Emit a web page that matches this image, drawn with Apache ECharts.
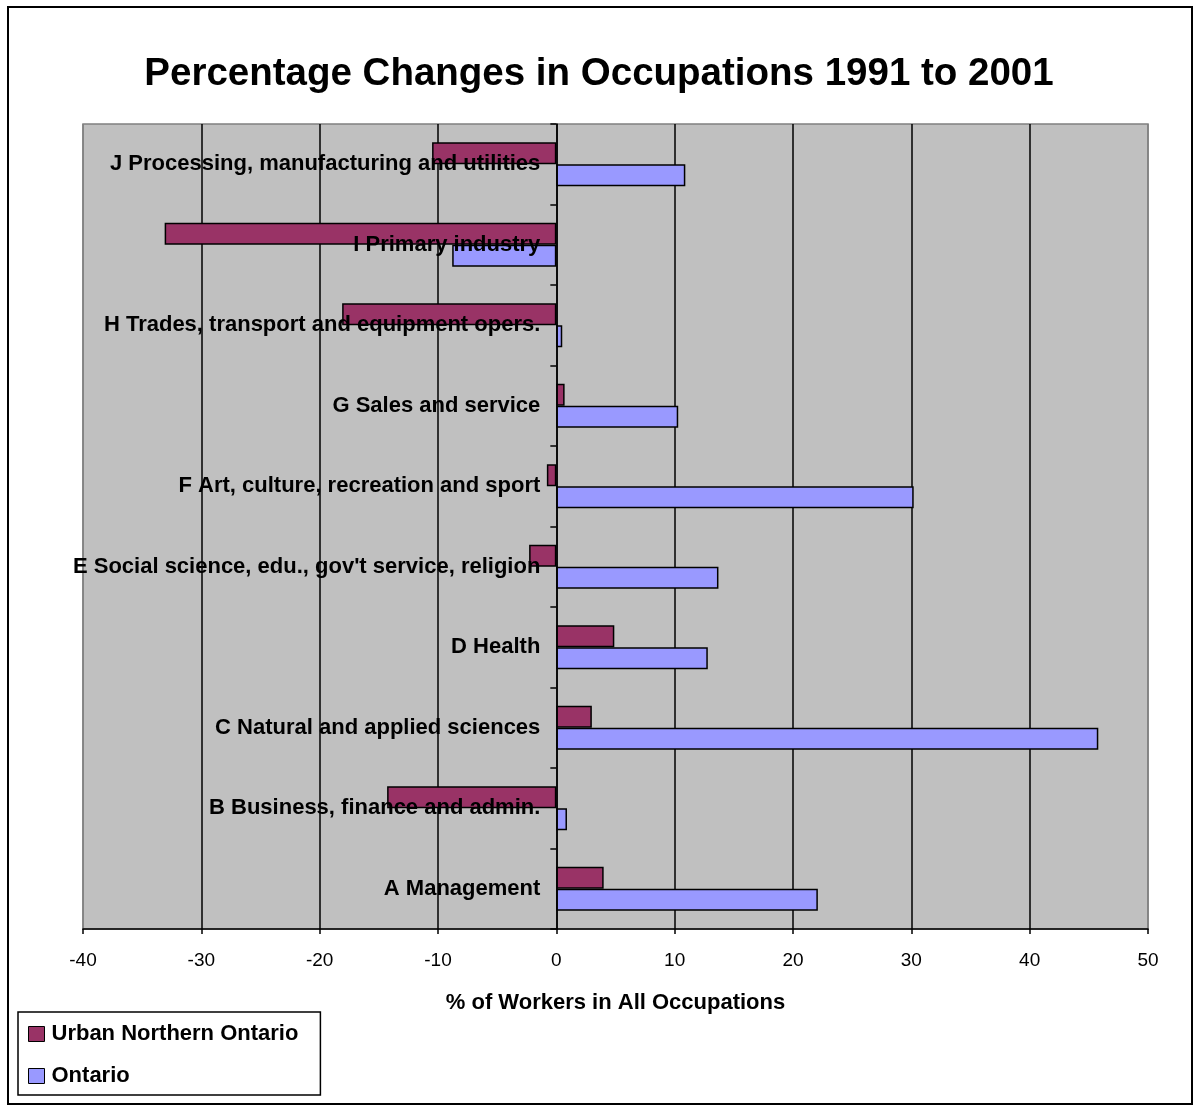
<!DOCTYPE html>
<html>
<head>
<meta charset="utf-8">
<script src="https://cdn.jsdelivr.net/npm/echarts@6/dist/echarts.min.js"></script>
<style>
  html, body { margin: 0; padding: 0; background: #fff; }
  #chart { width: 1198px; height: 1111px; }
</style>
</head>
<body>
<div id="chart"></div>
<script>
  // categories top to bottom, as in the picture
  var occupations = [
    'J Processing, manufacturing and utilities',
    'I Primary industry',
    'H Trades, transport and equipment opers.',
    'G Sales and service',
    'F Art, culture, recreation and sport',
    'E Social science, edu., gov\'t service, religion',
    'D Health',
    'C Natural and applied sciences',
    'B Business, finance and admin.',
    'A Management'
  ];
  var urbanNorth = [-10.5, -33.1, -18.1, 0.7, -0.8, -2.3, 4.9, 3.0, -14.3, 4.0];
  var ontario = [10.9, -8.8, 0.5, 10.3, 30.2, 13.7, 12.8, 45.8, 0.9, 22.1];
  var seriesNames = ['Urban Northern Ontario', 'Ontario'];
  var xTicks = [-40, -30, -20, -10, 0, 10, 20, 30, 40, 50];

  var fontName = 'Arial, "Liberation Sans", sans-serif';
  var chart = echarts.init(document.getElementById('chart'));

  var gridLeft = 83, gridRight = 50;
  var plotWidth = 1198 - gridLeft - gridRight;
  // move the category axis onto x = 0 (labels included)
  var zeroOffset = -plotWidth * (0 - xTicks[0]) / (xTicks[xTicks.length - 1] - xTicks[0]);

  var option = {
    backgroundColor: '#fff',
    animation: false,
    title: {
      text: 'Percentage Changes in Occupations 1991 to 2001',
      left: 'center',
      top: 50,
      textStyle: {
        fontFamily: fontName,
        fontSize: 38.5,
        fontWeight: 'bold',
        color: '#000'
      }
    },
    legend: {
      data: seriesNames,
      orient: 'vertical',
      left: 18,
      top: 1012,
      padding: [11, 22, 8, 10],
      itemGap: 20,
      itemWidth: 16,
      itemHeight: 15,
      icon: 'rect',
      borderColor: '#000',
      borderWidth: 1.5,
      backgroundColor: '#fff',
      itemStyle: { borderColor: '#000', borderWidth: 1 },
      textStyle: {
        fontFamily: fontName,
        fontSize: 22,
        fontWeight: 'bold',
        color: '#000',
        padding: [0, 0, 0, 2]
      }
    },
    grid: {
      left: gridLeft,
      right: gridRight,
      top: 124,
      bottom: 182,
      containLabel: false,
      outerBoundsMode: 'none',
      show: true,
      backgroundColor: '#c0c0c0',
      borderColor: '#808080',
      borderWidth: 1.5
    },
    xAxis: {
      type: 'value',
      min: -40,
      max: 50,
      interval: 10,
      name: '% of Workers in All Occupations',
      nameLocation: 'middle',
      nameGap: 63,
      nameTextStyle: {
        fontFamily: fontName,
        fontSize: 22,
        fontWeight: 'bold',
        color: '#000'
      },
      axisLine: { show: true, lineStyle: { color: '#000', width: 1.5 } },
      axisTick: { show: true, length: 5, lineStyle: { color: '#000', width: 1.5 } },
      axisLabel: {
        fontFamily: fontName,
        fontSize: 19,
        color: '#000',
        margin: 22,
        formatter: function (v) {
          return xTicks.indexOf(v) !== -1 ? String(v) : '';
        }
      },
      splitLine: {
        show: true,
        lineStyle: {
          color: ['#808080', '#000', '#000', '#000', '#000', '#000', '#000', '#000', '#000'],
          width: 1.5
        }
      }
    },
    yAxis: {
      type: 'category',
      data: occupations,
      inverse: true,
      offset: zeroOffset,
      axisLine: { show: true, onZero: false, lineStyle: { color: '#000', width: 1.5 } },
      axisTick: { show: true, length: 6, lineStyle: { color: '#000', width: 1.5 } },
      axisLabel: {
        fontFamily: fontName,
        fontSize: 22,
        fontWeight: 'bold',
        color: '#000',
        margin: 16,
        padding: [8, 0, 0, 0]
      },
      splitLine: { show: false },
      z: 5
    },
    series: [{
      name: seriesNames[0],
      type: 'bar',
      data: urbanNorth,
      barWidth: 22,
      barGap: '0%',
      barCategoryGap: '44%',
      itemStyle: { color: '#993366', borderColor: '#000', borderWidth: 1.5 }
    }, {
      name: seriesNames[1],
      type: 'bar',
      data: ontario,
      barWidth: 22,
      barGap: '0%',
      barCategoryGap: '44%',
      itemStyle: { color: '#9999ff', borderColor: '#000', borderWidth: 1.5 }
    }],
    graphic: [{
      type: 'rect',
      shape: { x: 8, y: 7, width: 1184, height: 1097 },
      style: { fill: null, stroke: '#000', lineWidth: 2 },
      silent: true,
      z: 100
    }]
  };

  chart.setOption(option);
</script>
</body>
</html>
